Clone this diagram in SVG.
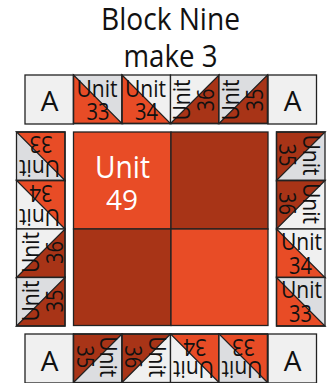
<svg xmlns="http://www.w3.org/2000/svg" width="331" height="383" viewBox="0 0 331 383">
<style>
text{font-family:"Open Sans","Noto Sans","Liberation Sans",sans-serif;fill:#111;text-anchor:middle}
.t{font-size:31px}
.u{font-size:24px}
.d{font-size:23px}
.a{font-size:28px}
.w49{fill:#fff}
.e{stroke:#222;stroke-width:1.3;stroke-linejoin:miter}
.o{fill:#e84c26}.b{fill:#a83417}.g{fill:#dcdde0}.w{fill:#f0f0f0}
.box{fill:none;stroke:#222;stroke-width:1.3}
</style>
<rect width="331" height="383" fill="#fff"/>
<text class="t" x="170.5" y="30" textLength="139" lengthAdjust="spacingAndGlyphs">Block Nine</text>
<text class="t" x="170.5" y="67" textLength="94" lengthAdjust="spacingAndGlyphs">make 3</text>

<g id="a-top-left"><rect class="w e" x="25" y="75" width="48.5" height="49"/><text class="a" x="49.5" y="111">A</text></g>
<g id="a-top-right"><rect class="w e" x="268" y="75" width="48.5" height="49"/><text class="a" x="292.5" y="111">A</text></g>
<g id="a-bottom-left"><rect class="w e" x="25" y="334" width="48.5" height="49"/><text class="a" x="49.5" y="371">A</text></g>
<g id="a-bottom-right"><rect class="w e" x="268" y="334" width="48.5" height="49"/><text class="a" x="292.5" y="371">A</text></g>

<g id="top-33" transform="translate(73.5 75)"><rect class="g" width="48.5" height="48.5"/><path class="o e" d="M0 0L48.5 48.5H0Z"/><rect class="box" width="48.5" height="48.5"/><text class="u" x="23.5" y="22" textLength="41" lengthAdjust="spacingAndGlyphs">Unit</text><text class="d" x="24.5" y="45" textLength="23" lengthAdjust="spacingAndGlyphs">33</text></g>
<g id="top-34" transform="translate(122 75)"><rect class="w" width="48.5" height="48.5"/><path class="o e" d="M0 0L48.5 48.5H0Z"/><rect class="box" width="48.5" height="48.5"/><text class="u" x="23.5" y="22" textLength="41" lengthAdjust="spacingAndGlyphs">Unit</text><text class="d" x="24.5" y="45" textLength="23" lengthAdjust="spacingAndGlyphs">34</text></g>
<g id="top-36" transform="translate(170.5 75)"><rect class="w" width="48.5" height="48.5"/><path class="b e" d="M0 48.5L48.5 0V48.5Z"/><rect class="box" width="48.5" height="48.5"/><text class="u" transform="translate(19.5 25) rotate(-90)" textLength="41" lengthAdjust="spacingAndGlyphs">Unit</text><text class="d" transform="translate(43.5 25) rotate(-90)" textLength="23" lengthAdjust="spacingAndGlyphs">36</text></g>
<g id="top-35" transform="translate(219 75)"><rect class="g" width="48.5" height="48.5"/><path class="b e" d="M0 48.5L48.5 0V48.5Z"/><rect class="box" width="48.5" height="48.5"/><text class="u" transform="translate(19.5 25) rotate(-90)" textLength="41" lengthAdjust="spacingAndGlyphs">Unit</text><text class="d" transform="translate(43.5 25) rotate(-90)" textLength="23" lengthAdjust="spacingAndGlyphs">35</text></g>

<g id="left-33" transform="translate(65 180.5) rotate(180)"><rect class="g" width="48.5" height="48.5"/><path class="o e" d="M0 0L48.5 48.5H0Z"/><rect class="box" width="48.5" height="48.5"/><text class="u" x="25.5" y="20.5" textLength="41" lengthAdjust="spacingAndGlyphs">Unit</text><text class="d" x="24" y="44.5" textLength="23" lengthAdjust="spacingAndGlyphs">33</text></g>
<g id="left-34" transform="translate(65 229) rotate(180)"><rect class="w" width="48.5" height="48.5"/><path class="o e" d="M0 0L48.5 48.5H0Z"/><rect class="box" width="48.5" height="48.5"/><text class="u" x="25.5" y="20.5" textLength="41" lengthAdjust="spacingAndGlyphs">Unit</text><text class="d" x="24" y="44.5" textLength="23" lengthAdjust="spacingAndGlyphs">34</text></g>
<g id="left-36" transform="translate(16.5 229)"><rect class="w" width="48.5" height="48.5"/><path class="b e" d="M0 48.5L48.5 0V48.5Z"/><rect class="box" width="48.5" height="48.5"/><text class="u" transform="translate(22.5 23.5) rotate(-90)" textLength="41" lengthAdjust="spacingAndGlyphs">Unit</text><text class="d" transform="translate(46.5 23.5) rotate(-90)" textLength="23" lengthAdjust="spacingAndGlyphs">36</text></g>
<g id="left-35" transform="translate(16.5 277.5)"><rect class="g" width="48.5" height="48.5"/><path class="b e" d="M0 48.5L48.5 0V48.5Z"/><rect class="box" width="48.5" height="48.5"/><text class="u" transform="translate(22.5 23.5) rotate(-90)" textLength="41" lengthAdjust="spacingAndGlyphs">Unit</text><text class="d" transform="translate(46.5 23.5) rotate(-90)" textLength="23" lengthAdjust="spacingAndGlyphs">35</text></g>

<g id="right-35" transform="translate(325 180.5) rotate(180)"><rect class="g" width="48.5" height="48.5"/><path class="b e" d="M0 48.5L48.5 0V48.5Z"/><rect class="box" width="48.5" height="48.5"/><text class="u" transform="translate(22 25.5) rotate(-90)" textLength="41" lengthAdjust="spacingAndGlyphs">Unit</text><text class="d" transform="translate(46 25.5) rotate(-90)" textLength="23" lengthAdjust="spacingAndGlyphs">35</text></g>
<g id="right-36" transform="translate(325 229) rotate(180)"><rect class="w" width="48.5" height="48.5"/><path class="b e" d="M0 48.5L48.5 0V48.5Z"/><rect class="box" width="48.5" height="48.5"/><text class="u" transform="translate(22 25.5) rotate(-90)" textLength="41" lengthAdjust="spacingAndGlyphs">Unit</text><text class="d" transform="translate(46 25.5) rotate(-90)" textLength="23" lengthAdjust="spacingAndGlyphs">36</text></g>
<g id="right-34" transform="translate(276.5 229)"><rect class="w" width="48.5" height="48.5"/><path class="o e" d="M0 0L48.5 48.5H0Z"/><rect class="box" width="48.5" height="48.5"/><text class="u" x="25" y="20.5" textLength="41" lengthAdjust="spacingAndGlyphs">Unit</text><text class="d" x="24" y="44.7" textLength="23" lengthAdjust="spacingAndGlyphs">34</text></g>
<g id="right-33" transform="translate(276.5 277.5)"><rect class="g" width="48.5" height="48.5"/><path class="o e" d="M0 0L48.5 48.5H0Z"/><rect class="box" width="48.5" height="48.5"/><text class="u" x="25" y="20.5" textLength="41" lengthAdjust="spacingAndGlyphs">Unit</text><text class="d" x="24" y="44.7" textLength="23" lengthAdjust="spacingAndGlyphs">33</text></g>

<g id="bottom-35" transform="translate(122 382.5) rotate(180)"><rect class="g" width="48.5" height="48.5"/><path class="b e" d="M0 48.5L48.5 0V48.5Z"/><rect class="box" width="48.5" height="48.5"/><text class="u" transform="translate(22 25.8) rotate(-90)" textLength="41" lengthAdjust="spacingAndGlyphs">Unit</text><text class="d" transform="translate(45.5 25.8) rotate(-90)" textLength="23" lengthAdjust="spacingAndGlyphs">35</text></g>
<g id="bottom-36" transform="translate(170.5 382.5) rotate(180)"><rect class="w" width="48.5" height="48.5"/><path class="b e" d="M0 48.5L48.5 0V48.5Z"/><rect class="box" width="48.5" height="48.5"/><text class="u" transform="translate(22 25.8) rotate(-90)" textLength="41" lengthAdjust="spacingAndGlyphs">Unit</text><text class="d" transform="translate(45.5 25.8) rotate(-90)" textLength="23" lengthAdjust="spacingAndGlyphs">36</text></g>
<g id="bottom-34" transform="translate(219 382.5) rotate(180)"><rect class="w" width="48.5" height="48.5"/><path class="o e" d="M0 0L48.5 48.5H0Z"/><rect class="box" width="48.5" height="48.5"/><text class="u" x="25.5" y="21.5" textLength="41" lengthAdjust="spacingAndGlyphs">Unit</text><text class="d" x="24" y="43.5" textLength="23" lengthAdjust="spacingAndGlyphs">34</text></g>
<g id="bottom-33" transform="translate(267.5 382.5) rotate(180)"><rect class="g" width="48.5" height="48.5"/><path class="o e" d="M0 0L48.5 48.5H0Z"/><rect class="box" width="48.5" height="48.5"/><text class="u" x="25.5" y="21.5" textLength="41" lengthAdjust="spacingAndGlyphs">Unit</text><text class="d" x="24" y="43.5" textLength="23" lengthAdjust="spacingAndGlyphs">33</text></g>

<g id="unit-49"><rect class="o e" x="73.5" y="132" width="97.5" height="97"/><text class="w49" x="122.5" y="178" style="font-size:31px" textLength="55" lengthAdjust="spacingAndGlyphs">Unit</text><text class="w49" x="122" y="210" style="font-size:28px" textLength="32" lengthAdjust="spacingAndGlyphs">49</text></g>
<g id="quad-tr"><rect class="b e" x="171" y="132" width="97" height="97"/></g>
<g id="quad-bl"><rect class="b e" x="73.5" y="229" width="97.5" height="96.5"/></g>
<g id="quad-br"><rect class="o e" x="171" y="229" width="97" height="96.5"/></g>
</svg>
